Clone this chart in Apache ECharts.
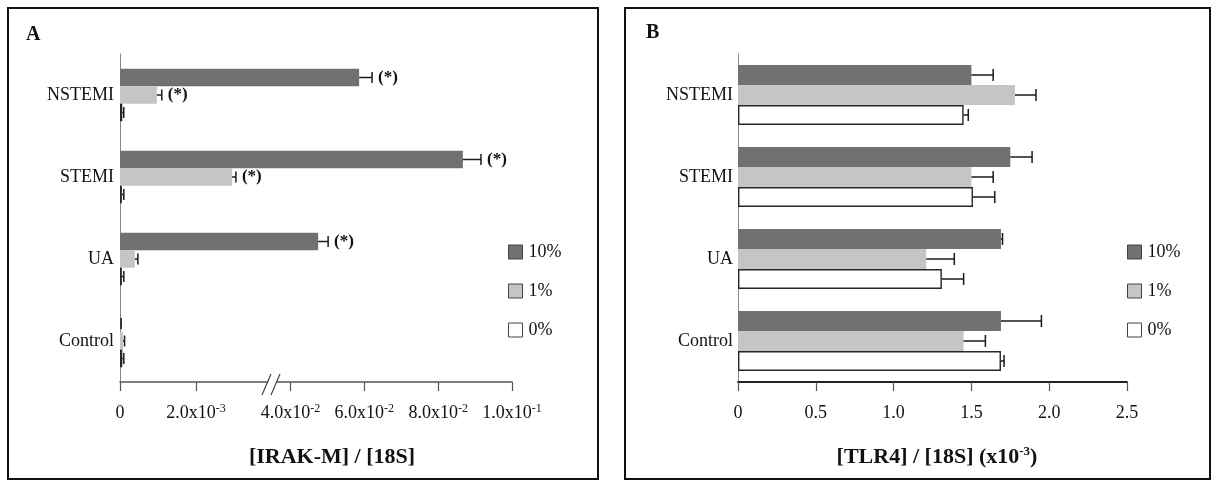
<!DOCTYPE html>
<html><head><meta charset="utf-8">
<script src="https://cdn.jsdelivr.net/npm/echarts@6/dist/echarts.min.js"></script>
<style>html,body{margin:0;padding:0;background:#fff}#c{width:1216px;height:482px}</style>
</head><body><div id="c"></div>
<script>
// ---------- DATA ----------
const categories = ['Control', 'UA', 'STEMI', 'NSTEMI'];
const seriesNames = ['10%', '1%', '0%'];

// Panel A: [IRAK-M]/[18S]
const irak10 = [0.00001, 0.0475, 0.0867, 0.0586];
const irak10Err = [0.00002, 0.0027, 0.0049, 0.0035];
const irak1 = [0.00008, 0.00039, 0.00295, 0.00097];
const irak1Err = [0.00004, 0.00008, 0.00010, 0.00013];
const irak0 = [0.00006, 0.00005, 0.00005, 0.00006];
const irak0Err = [0.00004, 0.00005, 0.00005, 0.00004];
const sigA10 = [0, 1, 1, 1];
const sigA1 = [0, 0, 1, 1];
const sigA0 = [0, 0, 0, 0];

// Panel B: [TLR4]/[18S] (x10^-3)
const tlr10 = [1.69, 1.69, 1.75, 1.50];
const tlr10Err = [0.26, 0.01, 0.14, 0.14];
const tlr1 = [1.45, 1.21, 1.50, 1.78];
const tlr1Err = [0.14, 0.18, 0.14, 0.135];
const tlr0 = [1.69, 1.31, 1.51, 1.45];
const tlr0Err = [0.02, 0.14, 0.14, 0.03];

// Tick labels
const tickValsALeft = [0, 0.002];
const tickValsARight = [0.04, 0.06, 0.08, 0.1];
const tickValsA = [0, 0.002, 0.04, 0.06, 0.08, 0.1];
const tickMantA = ['0', '2.0x10', '4.0x10', '6.0x10', '8.0x10', '1.0x10'];
const tickExpA = ['', '-3', '-2', '-2', '-2', '-1'];
const tickValsB = [0, 0.5, 1.0, 1.5, 2.0, 2.5];
const tickLabelsB = ['0', '0.5', '1.0', '1.5', '2.0', '2.5'];

// ---------- STYLE ----------
const FONT = '"Liberation Serif", "Times New Roman", serif';
const colors = ['#717171', '#c5c5c5', '#ffffff'];
const borders = ['#717171', '#c5c5c5', '#262626'];
const bWidths = [0, 0, 1.4];
const BW_A = 17.5, BW_B = 20;
const LEFT_MAX = 0.004, RIGHT_MIN = 0.035;

const valsA = [irak10, irak1, irak0];
const errsA = [irak10Err, irak1Err, irak0Err];
const sigsA = [sigA10, sigA1, sigA0];
const valsB = [tlr10, tlr1, tlr0];
const errsB = [tlr10Err, tlr1Err, tlr0Err];

function barSeries(gi, vals, bw) {
  return vals.map((arr, k) => ({
    type: 'bar', name: seriesNames[k], xAxisIndex: gi, yAxisIndex: gi,
    data: arr, barWidth: bw, barGap: '0%', clip: true, silent: true,
    itemStyle: { color: colors[k], borderColor: borders[k], borderWidth: bWidths[k] },
    emphasis: { disabled: true }
  }));
}

function errRender(bw, cap) {
  return function (params, api) {
    const v = api.value(0), c = api.value(1), e = api.value(2), s = api.value(3), k = api.value(4);
    const p0 = api.coord([v, c]);
    const p1 = api.coord([v + e, c]);
    const y = p0[1] + (k - 1) * bw;
    const st = { stroke: '#1a1a1a', lineWidth: 1.5 };
    const children = [
      { type: 'line', shape: { x1: p0[0], y1: y, x2: p1[0], y2: y }, style: st },
      { type: 'line', shape: { x1: p1[0], y1: y - cap / 2, x2: p1[0], y2: y + cap / 2 }, style: st }
    ];
    if (s) children.push({ type: 'text', x: p1[0] + 6, y: y,
      style: { text: '(*)', font: 'bold 17px ' + FONT, fill: '#111', align: 'left', verticalAlign: 'middle' } });
    return { type: 'group', children };
  };
}

function errItems(vals, errs, sigs, pred) {
  const out = [];
  vals.forEach((arr, k) => arr.forEach((v, c) => {
    const e = errs[k][c];
    if (pred(v, e)) out.push([v, c, e, sigs ? sigs[k][c] : 0, k]);
  }));
  return out;
}

function errSeries(gi, data, bw, cap) {
  return { type: 'custom', xAxisIndex: gi, yAxisIndex: gi, silent: true,
    encode: { x: 0, y: 1 }, renderItem: errRender(bw, cap), data, z: 5 };
}

function fmtA(v) {
  const i = tickValsA.findIndex(t => Math.abs(t - v) < 1e-9);
  if (i < 0) return '';
  return tickExpA[i] ? '{m|' + tickMantA[i] + '}{e|' + tickExpA[i] + '}' : '{m|' + tickMantA[i] + '}';
}
function fmtB(v) {
  const i = tickValsB.findIndex(t => Math.abs(t - v) < 1e-9);
  return i < 0 ? '' : tickLabelsB[i];
}

const richA = {
  m: { fontFamily: FONT, fontSize: 18, color: '#111', lineHeight: 20 },
  e: { fontFamily: FONT, fontSize: 12, color: '#111', lineHeight: 12, verticalAlign: 'top' }
};

const xLineA = { lineStyle: { color: '#555', width: 1.5 } };
const tickStyleA = { color: '#555', width: 1.2 };

const legendBase = {
  orient: 'vertical', top: 243, itemWidth: 14, itemHeight: 14, itemGap: 21, padding: 0,
  selectedMode: false, icon: 'rect',
  textStyle: { fontFamily: FONT, fontSize: 18, color: '#111', padding: [0, 0, 0, 1] },
  data: seriesNames.map((n, k) => ({ name: n, itemStyle: { color: colors[k], borderColor: '#444', borderWidth: 1 } }))
};

const option = {
  animation: false,
  backgroundColor: '#fff',
  grid: [
    { left: 120, top: 54, width: 152, height: 328 },
    { left: 272, top: 54, width: 240, height: 328 },
    { left: 738, top: 54, width: 389, height: 328 }
  ],
  xAxis: [
    { gridIndex: 0, type: 'value', min: 0, max: LEFT_MAX,
      axisLine: { show: true, onZero: false, ...xLineA },
      axisTick: { show: true, length: 9, customValues: tickValsALeft, lineStyle: tickStyleA },
      axisLabel: { customValues: tickValsALeft, formatter: fmtA, rich: richA, margin: 21 },
      splitLine: { show: false } },
    { gridIndex: 1, type: 'value', min: RIGHT_MIN, max: 0.1,
      axisLine: { show: true, onZero: false, ...xLineA },
      axisTick: { show: true, length: 9, customValues: tickValsARight, lineStyle: tickStyleA },
      axisLabel: { customValues: tickValsARight, formatter: fmtA, rich: richA, margin: 21 },
      splitLine: { show: false } },
    { gridIndex: 2, type: 'value', min: 0, max: 2.5, interval: 0.5,
      axisLine: { show: true, onZero: false, lineStyle: { color: '#222', width: 2 } },
      axisTick: { show: true, length: 9, lineStyle: { color: '#555', width: 1.2 } },
      axisLabel: { formatter: fmtB, fontFamily: FONT, fontSize: 18, color: '#111', margin: 22 },
      splitLine: { show: false } }
  ],
  yAxis: [
    { gridIndex: 0, type: 'category', data: categories,
      axisLine: { show: true, lineStyle: { color: '#888', width: 1 } },
      axisTick: { show: false },
      axisLabel: { fontFamily: FONT, fontSize: 18, color: '#111', margin: 6 } },
    { gridIndex: 1, type: 'category', data: categories, show: false },
    { gridIndex: 2, type: 'category', data: categories,
      axisLine: { show: true, lineStyle: { color: '#888', width: 1 } },
      axisTick: { show: false },
      axisLabel: { fontFamily: FONT, fontSize: 18, color: '#111', margin: 5 } }
  ],
  legend: [
    Object.assign({}, legendBase, { left: 508 }),
    Object.assign({}, legendBase, { left: 1127 })
  ],
  series: [
    ...barSeries(0, valsA, BW_A),
    ...barSeries(1, valsA, BW_A),
    ...barSeries(2, valsB, BW_B),
    errSeries(0, errItems(valsA, errsA, sigsA, (v, e) => v + e <= LEFT_MAX), BW_A, 11),
    errSeries(1, errItems(valsA, errsA, sigsA, (v, e) => v >= RIGHT_MIN), BW_A, 11),
    errSeries(2, errItems(valsB, errsB, null, () => true), BW_B, 12)
  ],
  graphic: [
    { type: 'rect', shape: { x: 8, y: 8, width: 590, height: 471 }, style: { fill: 'none', stroke: '#111', lineWidth: 2 } },
    { type: 'rect', shape: { x: 625, y: 8, width: 585, height: 471 }, style: { fill: 'none', stroke: '#111', lineWidth: 2 } },
    { type: 'text', left: 26, top: 25, style: { text: 'A', font: 'bold 20px ' + FONT, fill: '#111' } },
    { type: 'text', left: 646, top: 23, style: { text: 'B', font: 'bold 20px ' + FONT, fill: '#111' } },
    { type: 'polygon', z: 10, shape: { points: [[264, 392], [273, 392], [279, 377], [270, 377]] }, style: { fill: '#fff' } },
    { type: 'line', z: 11, shape: { x1: 262, y1: 395, x2: 271, y2: 374 }, style: { stroke: '#444', lineWidth: 1.2 } },
    { type: 'line', z: 11, shape: { x1: 271, y1: 395, x2: 280, y2: 374 }, style: { stroke: '#444', lineWidth: 1.2 } },
    { type: 'text', x: 332, y: 457, style: { text: '[IRAK-M] / [18S]', font: 'bold 22px ' + FONT, fill: '#111', align: 'center', verticalAlign: 'middle' } },
    { type: 'text', x: 937, y: 457, style: {
        text: '{b|[TLR4] / [18S] (x10}{s|-3}{b|)}', align: 'center', verticalAlign: 'middle',
        rich: { b: { font: 'bold 22px ' + FONT, fill: '#111', lineHeight: 24 },
                s: { font: 'bold 13px ' + FONT, fill: '#111', lineHeight: 13, verticalAlign: 'top' } } } }
  ]
};

const chart = echarts.init(document.getElementById('c'), null, { renderer: 'canvas' });
chart.setOption(option);
</script>
</body></html>
